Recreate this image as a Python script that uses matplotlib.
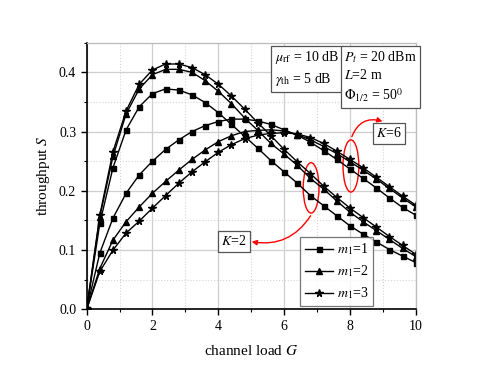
import matplotlib
matplotlib.use("Agg")
import matplotlib.pyplot as plt
from matplotlib.patches import Ellipse, FancyArrowPatch
from matplotlib.ticker import MultipleLocator

plt.rcParams['font.family'] = ['Liberation Serif', 'DejaVu Serif']
plt.rcParams['mathtext.fontset'] = 'stix'

G = [0, 0.4, 0.8, 1.2, 1.6, 2.0, 2.4, 2.8, 3.2, 3.6, 4.0, 4.4, 4.8, 5.2,
     5.6, 6.0, 6.4, 6.8, 7.2, 7.6, 8.0, 8.4, 8.8, 9.2, 9.6, 10.0]

# early-peaking group (K=2 annotation)
K2_m1 = [0, 0.145, 0.239, 0.303, 0.342, 0.364, 0.372, 0.370, 0.362, 0.349, 0.332, 0.312, 0.292,
         0.272, 0.251, 0.232, 0.213, 0.192, 0.175, 0.158, 0.141, 0.127, 0.114, 0.101, 0.090, 0.079]
K2_m2 = [0, 0.156, 0.258, 0.330, 0.372, 0.396, 0.405, 0.405, 0.400, 0.386, 0.368, 0.347, 0.323,
         0.302, 0.280, 0.262, 0.243, 0.221, 0.203, 0.183, 0.164, 0.148, 0.133, 0.118, 0.103, 0.089]
K2_m3 = [0, 0.159, 0.266, 0.335, 0.380, 0.404, 0.414, 0.414, 0.408, 0.396, 0.380, 0.360, 0.338,
         0.315, 0.293, 0.270, 0.249, 0.229, 0.208, 0.189, 0.171, 0.155, 0.139, 0.123, 0.108, 0.093]
# late-peaking group (K=6 annotation)
K6_m1 = [0, 0.095, 0.154, 0.196, 0.227, 0.250, 0.270, 0.286, 0.300, 0.310, 0.317, 0.321, 0.321,
         0.318, 0.312, 0.303, 0.294, 0.282, 0.268, 0.253, 0.237, 0.221, 0.205, 0.188, 0.172, 0.159]
K6_m2 = [0, 0.069, 0.117, 0.148, 0.173, 0.196, 0.216, 0.235, 0.253, 0.269, 0.283, 0.293, 0.300,
         0.302, 0.303, 0.301, 0.295, 0.286, 0.275, 0.263, 0.249, 0.235, 0.220, 0.204, 0.188, 0.173]
K6_m3 = [0, 0.064, 0.100, 0.129, 0.149, 0.171, 0.192, 0.213, 0.232, 0.249, 0.265, 0.278, 0.288,
         0.294, 0.297, 0.298, 0.296, 0.290, 0.280, 0.267, 0.253, 0.239, 0.223, 0.207, 0.191, 0.176]

legend_labels = [r'$m_1$=1', r'$m_1$=2', r'$m_1$=3']

fig = plt.figure(figsize=(4.84, 3.71), dpi=100)
ax = fig.add_axes([0.179, 0.166, 0.680, 0.719])

styles = [dict(marker='s', ms=3.6), dict(marker='^', ms=4.4), dict(marker='*', ms=5.4)]
for ys, st, lab in zip([K2_m1, K2_m2, K2_m3], styles, legend_labels):
    ax.plot(G, ys, color='black', lw=1.0, label=lab, **st)
for ys, st in zip([K6_m1, K6_m2, K6_m3], styles):
    ax.plot(G, ys, color='black', lw=1.0, **st)

ax.set_xlim(0, 10)
ax.set_ylim(0, 0.45)
ax.xaxis.set_major_locator(MultipleLocator(2))
ax.xaxis.set_minor_locator(MultipleLocator(1))
ax.yaxis.set_major_locator(MultipleLocator(0.1))
ax.yaxis.set_minor_locator(MultipleLocator(0.05))
ax.yaxis.set_major_formatter(matplotlib.ticker.FormatStrFormatter('%.1f'))
ax.grid(which='major', color='#cfcfcf', lw=0.9, ls='-')
ax.grid(which='minor', color='#d5d5d5', lw=0.8, ls=':')
ax.set_axisbelow(True)
ax.tick_params(which='major', direction='out', length=4, width=1, labelsize=10)
ax.tick_params(which='minor', direction='out', length=2, width=0.8)
for s in ['left', 'bottom']:
    ax.spines[s].set_linewidth(1.2)
for s in ['top', 'right']:
    ax.spines[s].set_color('#bbbbbb')
    ax.spines[s].set_linewidth(0.9)

ax.set_xlabel(r'channel load $G$', fontsize=11, labelpad=8)
ax.set_ylabel(r'throughput $S$', fontsize=11, labelpad=5)

bbox = dict(boxstyle='square,pad=0.25', fc='white', ec='#555555', lw=0.9)
ax.text(0.572, 0.975, r'$\mu_{\rm rf}$ = 10 dB' + '\n' + r'$\gamma_{\rm th}$ = 5 dB',
        transform=ax.transAxes, ha='left', va='top', fontsize=10, bbox=bbox, linespacing=1.4)
ax.text(0.782, 0.975, r'$P_t$ = 20 dBm' + '\n' + r'$L$=2 m' + '\n' + r'$\Phi_{1/2}$ = 50$^0$',
        transform=ax.transAxes, ha='left', va='top', fontsize=10, bbox=bbox, linespacing=1.3)

# annotations
ax.add_patch(Ellipse((6.82, 0.205), 0.48, 0.085, fill=False, ec='red', lw=1.0))
ax.add_patch(Ellipse((8.03, 0.242), 0.48, 0.088, fill=False, ec='red', lw=1.0))
ax.add_patch(FancyArrowPatch((8.03, 0.287), (9.07, 0.316), connectionstyle='arc3,rad=-0.5',
                             arrowstyle='-|>,head_length=3,head_width=1.5', color='red', lw=1.0))
ax.add_patch(FancyArrowPatch((6.85, 0.162), (4.93, 0.115), connectionstyle='arc3,rad=-0.35',
                             arrowstyle='-|>,head_length=3,head_width=1.5', color='red', lw=1.0))
ax.text(9.18, 0.297, r'$K$=6', fontsize=10, ha='center', va='center', bbox=bbox)
ax.text(4.48, 0.115, r'$K$=2', fontsize=10, ha='center', va='center', bbox=bbox)

leg = ax.legend(loc='lower left', bbox_to_anchor=(0.648, 0.012), fontsize=10, frameon=True,
                fancybox=False, edgecolor='#555555', handlelength=2.0, borderpad=0.35,
                labelspacing=0.45, handletextpad=0.3, borderaxespad=0)
leg.get_frame().set_linewidth(0.9)

fig.savefig('out.png', dpi=100)
